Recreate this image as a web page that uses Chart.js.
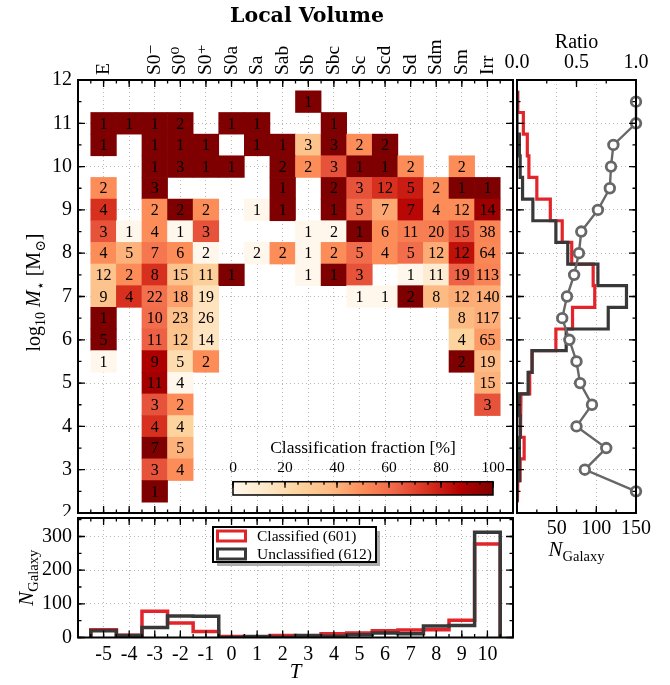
<!DOCTYPE html>
<html>
<head>
<meta charset="utf-8">
<script src="https://cdn.jsdelivr.net/npm/chart.js@4.4.1/dist/chart.umd.min.js"></script>
<style>
  html, body { margin: 0; padding: 0; background: #fff; overflow: hidden; }
  #wrap { position: relative; width: 670px; height: 685px; }
  canvas { position: absolute; }
</style>
</head>
<body>
<div id="wrap">
  <canvas id="heat" width="614" height="516" style="left:0px;top:0px"></canvas>
  <canvas id="cbar" width="310" height="70" style="left:200px;top:430px"></canvas>
  <canvas id="side" width="170" height="545" style="left:500px;top:20px"></canvas>
  <canvas id="hist" width="516" height="180" style="left:0px;top:505px"></canvas>
</div>
<script>
// ---- morphological types (T) ----
const typeBins   = [-5, -4, -3, -2, -1, 0, 1, 2, 3, 4, 5, 6, 7, 8, 9, 10];
const typeCodes  = [-5, -3, -2, -1, 0, 1, 2, 3, 4, 5, 6, 7, 8, 9, 10];
const typeLabels = ['E', 'S0\u207B', 'S0\u2070', 'S0\u207A', 'S0a', 'Sa', 'Sab', 'Sb', 'Sbc', 'Sc', 'Scd', 'Sd', 'Sdm', 'Sm', 'Irr'];

// ---- stellar-mass bins (log10 M*, centres, top to bottom) ----
const massBins = [11.5, 11, 10.5, 10, 9.5, 9, 8.5, 8, 7.5, 7, 6.5, 6, 5.5, 5, 4.5, 4, 3.5, 3, 2.5];

// ---- grid cells: one row per mass bin ----
const cellType = [
  [3],
  [-5, -4, -3, -2, 0, 1, 4],
  [-5, -3, -2, -1, 1, 2, 3, 4, 5, 6],
  [-3, -2, -1, 0, 2, 3, 4, 5, 6, 7, 9],
  [-5, -3, 2, 4, 5, 6, 7, 8, 9, 10],
  [-5, -3, -2, -1, 1, 2, 4, 5, 6, 7, 8, 9, 10],
  [-5, -4, -3, -2, -1, 3, 4, 5, 6, 7, 8, 9, 10],
  [-5, -4, -3, -2, -1, 1, 2, 3, 4, 5, 6, 7, 8, 9, 10],
  [-5, -4, -3, -2, -1, 0, 3, 4, 5, 7, 8, 9, 10],
  [-5, -4, -3, -2, -1, 5, 6, 7, 8, 9, 10],
  [-5, -3, -2, -1, 9, 10],
  [-5, -3, -2, -1, 9, 10],
  [-5, -3, -2, -1, 9, 10],
  [-3, -2, 10],
  [-3, -2, 10],
  [-3, -2],
  [-3, -2],
  [-3, -2],
  [-3]
];
const cellTotal = [
  [1],
  [1, 1, 1, 2, 1, 1, 1],
  [1, 1, 1, 1, 1, 1, 3, 3, 2, 2],
  [1, 3, 1, 1, 2, 2, 3, 1, 1, 2, 2],
  [2, 3, 1, 2, 3, 12, 5, 2, 1, 1],
  [4, 2, 2, 2, 1, 1, 1, 5, 7, 7, 4, 12, 14],
  [3, 1, 4, 1, 3, 1, 2, 1, 6, 11, 20, 15, 38],
  [4, 5, 7, 6, 2, 2, 2, 1, 2, 5, 4, 5, 12, 12, 64],
  [12, 2, 8, 15, 11, 1, 1, 1, 3, 1, 11, 19, 113],
  [9, 4, 22, 18, 19, 1, 1, 2, 8, 12, 140],
  [1, 10, 23, 26, 8, 117],
  [5, 11, 12, 14, 4, 65],
  [1, 9, 5, 2, 2, 19],
  [11, 4, 15],
  [3, 2, 3],
  [4, 4],
  [7, 5],
  [3, 4],
  [1]
];
const cellClassified = [
  [1],
  [1, 1, 1, 2, 1, 1, 1],
  [1, 1, 1, 1, 1, 1, 1, 3, 1, 2],
  [1, 3, 1, 1, 2, 1, 2, 1, 1, 1, 1],
  [1, 3, 1, 2, 2, 9, 4, 1, 1, 1],
  [3, 1, 2, 1, 0, 1, 1, 3, 3, 6, 2, 6, 13],
  [2, 0, 2, 0, 2, 0, 0, 1, 3, 6, 11, 10, 20],
  [2, 2, 4, 3, 0, 0, 1, 0, 1, 3, 2, 3, 5, 10, 33],
  [4, 1, 6, 5, 3, 1, 0, 1, 2, 0, 1, 12, 60],
  [3, 3, 13, 8, 3, 0, 0, 2, 3, 5, 58],
  [1, 6, 8, 4, 3, 48],
  [5, 7, 4, 2, 1, 30],
  [0, 8, 1, 1, 2, 7],
  [10, 0, 6],
  [2, 1, 2],
  [3, 1],
  [7, 2],
  [2, 2],
  [1]
];

// ---- counts per mass bin (side panel) ----
const classifiedByMass   = [1, 8, 13, 15, 25, 42, 57, 69, 96, 98, 70, 49, 19, 16, 5, 4, 9, 4, 1];
const unclassifiedByMass = [0, 0, 3, 4, 7, 20, 49, 64, 102, 138, 115, 62, 19, 14, 3, 4, 3, 3, 0];
const classifiedRatio    = [1.00, 1.00, 0.81, 0.79, 0.78, 0.68, 0.54, 0.52, 0.48, 0.42, 0.38, 0.44, 0.50, 0.53, 0.63, 0.50, 0.75, 0.57, 1.00];

// ---- counts per type (bottom panel) ----
const classifiedByType   = [23, 7, 78, 43, 18, 3, 2, 6, 3, 11, 13, 20, 22, 23, 51, 278];
const unclassifiedByType = [20, 6, 30, 64, 63, 0, 3, 1, 6, 4, 8, 13, 11, 34, 36, 313];

// ---- styling ----
const SERIF = "'Liberation Serif', 'DejaVu Serif', serif";
Chart.defaults.font.family = SERIF;
Chart.defaults.color = '#000';
const RED = '#e2242b';
const DARK = '#383838';
const GRID = '#b9b9b9';
const DOTS = [1, 3];
const orRd = ['#fff7ec', '#fee8c8', '#fdd49e', '#fdbb84', '#fc8d59', '#ef6548', '#d7301f', '#b30000', '#7f0000'];

function hexRgb(h) { return [1, 3, 5].map(i => parseInt(h.substr(i, 2), 16)); }
function fractionColor(f) {
  const p = Math.max(0, Math.min(1, f)) * (orRd.length - 1);
  const i = Math.min(Math.floor(p), orRd.length - 2);
  const t = p - i;
  const a = hexRgb(orRd[i]), b = hexRgb(orRd[i + 1]);
  return 'rgb(' + a.map((v, k) => Math.round(v + (b[k] - v) * t)).join(',') + ')';
}
const sum = arr => arr.reduce((s, v) => s + v, 0);

// fixed axis box sizes, no extra label overflow padding
const fixSize = (w, h) => s => {
  if (w != null) s.width = w;
  if (h != null) s.height = h;
  s.paddingTop = s.paddingBottom = s.paddingLeft = s.paddingRight = 0;
};

// frame around the plot area with inward tick marks
function frame(marks, frameWidth) {
  return {
    id: 'frame',
    afterDraw(chart) {
      const { ctx, chartArea: a } = chart;
      ctx.save();
      ctx.strokeStyle = '#000';
      marks.forEach(m => {
        const s = chart.scales[m.scale];
        ctx.lineWidth = m.width || 1.3;
        const first = Math.ceil(s.min / m.step - 1e-6), last = Math.floor(s.max / m.step + 1e-6);
        ctx.beginPath();
        for (let k = first; k <= last; k++) {
          const p = s.getPixelForValue(k * m.step);
          m.sides.forEach(side => {
            if (side === 'bottom') { ctx.moveTo(p, a.bottom); ctx.lineTo(p, a.bottom - m.len); }
            if (side === 'top')    { ctx.moveTo(p, a.top);    ctx.lineTo(p, a.top + m.len); }
            if (side === 'left')   { ctx.moveTo(a.left, p);   ctx.lineTo(a.left + m.len, p); }
            if (side === 'right')  { ctx.moveTo(a.right, p);  ctx.lineTo(a.right - m.len, p); }
          });
        }
        ctx.stroke();
      });
      ctx.lineWidth = frameWidth || 2;
      ctx.strokeRect(a.left, a.top, a.right - a.left, a.bottom - a.top);
      ctx.restore();
    }
  };
}

// titles with sub-/superscripts and mixed styles
function richText(items) {
  return {
    id: 'richText',
    afterDraw(chart) {
      const ctx = chart.ctx;
      items.forEach(item => {
        const { x, y, angle } = item.at(chart.chartArea);
        ctx.save();
        ctx.translate(x, y);
        ctx.rotate(angle || 0);
        ctx.fillStyle = '#000';
        ctx.textBaseline = 'alphabetic';
        ctx.textAlign = 'left';
        const widths = item.runs.map(r => { ctx.font = r.font; return ctx.measureText(r.text).width; });
        let cx = -sum(widths) / 2;
        item.runs.forEach((r, i) => { ctx.font = r.font; ctx.fillText(r.text, cx, r.dy || 0); cx += widths[i]; });
        ctx.restore();
      });
    }
  };
}
const run = (text, size, style, dy, family) => ({ text, font: (style ? style + ' ' : '') + size + 'px ' + (family || SERIF), dy: dy || 0 });
const titleRuns = [run('Local Volume', 20.5, 'bold', 0, "'DejaVu Serif', serif")];
const nGalaxyRuns = [run('N', 21, 'italic'), run('Galaxy', 14.5, '', 4.5)];
const logMassRuns = [run('log', 20), run('10', 14, '', 5), run(' ', 20), run('M', 20, 'italic'), run('\u22C6', 14, '', 5),
                     run(' [M', 20), run('\u2299', 14, '', 5), run(']', 20)];

// ---------------- main grid: type vs stellar mass ----------------
const heatData = [];
massBins.forEach((m, r) => cellType[r].forEach((t, j) => {
  heatData.push({ x: t, y: [m - 0.25, m + 0.25], n: cellTotal[r][j], k: cellClassified[r][j] });
}));

const cellLabels = {
  id: 'cellLabels',
  afterDatasetsDraw(chart) {
    const ctx = chart.ctx;
    const meta = chart.getDatasetMeta(0);
    const data = chart.data.datasets[0].data;
    ctx.save();
    ctx.fillStyle = '#000';
    ctx.font = '16px ' + SERIF;
    ctx.textAlign = 'center';
    ctx.textBaseline = 'middle';
    meta.data.forEach((el, i) => {
      const c = el.getCenterPoint();
      ctx.fillText(String(data[i].n), c.x, c.y + 1);
    });
    ctx.restore();
  }
};

const TOP_FONT = 19.5;
new Chart(document.getElementById('heat'), {
  type: 'bar',
  data: {
    datasets: [{
      data: heatData,
      backgroundColor: c => c.raw ? fractionColor(c.raw.k / c.raw.n) : '#fff',
      borderWidth: 0,
      barPercentage: 1,
      categoryPercentage: 1
    }]
  },
  options: {
    responsive: false,
    animation: false,
    events: [],
    layout: { padding: { left: 0, right: 101, top: 0, bottom: 3 } },
    plugins: { legend: { display: false }, tooltip: { enabled: false } },
    scales: {
      x: {
        type: 'linear', position: 'bottom', min: -6, max: 11, offset: false,
        ticks: { display: false, stepSize: 1 },
        grid: { color: GRID, drawTicks: false, offset: false },
        border: { display: false, dash: DOTS },
        afterFit: fixSize(null, 0)
      },
      xTop: {
        type: 'linear', position: 'top', min: -6, max: 11, offset: false,
        grid: { display: false, drawTicks: false },
        border: { display: false },
        afterBuildTicks: s => { s.ticks = typeCodes.map(v => ({ value: v })); },
        ticks: {
          autoSkip: false, minRotation: 90, maxRotation: 90, padding: 5,
          labelOffset: TOP_FONT * 1.2,
          font: { size: TOP_FONT },
          callback: v => typeLabels[typeCodes.indexOf(v)]
        },
        afterFit: fixSize(null, 80)
      },
      y: {
        type: 'linear', min: 2, max: 12, beginAtZero: false,
        ticks: { stepSize: 1, padding: 6, font: { size: 20 } },
        grid: { color: GRID, drawTicks: false },
        border: { display: false, dash: DOTS },
        afterFit: fixSize(78, null)
      }
    }
  },
  plugins: [
    cellLabels,
    frame([
      { scale: 'x', step: 1, len: 7, sides: ['top', 'bottom'] },
      { scale: 'x', step: 0.5, len: 3.5, sides: ['top', 'bottom'] },
      { scale: 'y', step: 1, len: 7, sides: ['left', 'right'] },
      { scale: 'y', step: 0.5, len: 3.5, sides: ['left', 'right'] }
    ], 2),
    richText([
      { runs: titleRuns, at: a => ({ x: 307, y: 22 }) },
      { runs: logMassRuns, at: a => ({ x: 40, y: (a.top + a.bottom) / 2 - 4, angle: -Math.PI / 2 }) }
    ])
  ]
});

// ---------------- colour bar ----------------
new Chart(document.getElementById('cbar'), {
  type: 'bar',
  data: {
    labels: [''],
    datasets: [{
      data: [100],
      backgroundColor: c => {
        const chart = c.chart, xs = chart.scales.x;
        if (!chart.chartArea || !xs) return orRd[4];
        const g = chart.ctx.createLinearGradient(xs.getPixelForValue(0), 0, xs.getPixelForValue(100), 0);
        orRd.forEach((col, i) => g.addColorStop(i / (orRd.length - 1), col));
        return g;
      },
      borderWidth: 0,
      barPercentage: 1,
      categoryPercentage: 1
    }]
  },
  options: {
    indexAxis: 'y',
    responsive: false,
    animation: false,
    events: [],
    layout: { padding: { left: 33, right: 17, top: 0, bottom: 5 } },
    plugins: { legend: { display: false }, tooltip: { enabled: false } },
    scales: {
      x: {
        type: 'linear', position: 'top', min: 0, max: 100,
        ticks: { stepSize: 20, padding: 4, font: { size: 15.5 } },
        grid: { display: false, drawTicks: false },
        border: { display: false },
        title: { display: true, text: 'Classification fraction [%]', font: { size: 17.5 }, padding: { top: 8, bottom: 0 } },
        afterFit: fixSize(null, 51.7)
      },
      y: { display: false }
    }
  },
  plugins: [frame([
    { scale: 'x', step: 20, len: 6, sides: ['top'] },
    { scale: 'x', step: 5, len: 3, sides: ['top'] }
  ], 1.5)]
});

// ---------------- side panel: counts and ratio per mass bin ----------------
function massSteps(counts) {
  const pts = [{ x: 0, y: massBins[0] + 0.25 }];
  massBins.forEach((m, i) => { pts.push({ x: counts[i], y: m + 0.25 }, { x: counts[i], y: m - 0.25 }); });
  pts.push({ x: 0, y: massBins[massBins.length - 1] - 0.25 });
  return pts;
}

new Chart(document.getElementById('side'), {
  type: 'line',
  data: {
    datasets: [
      { label: 'Classified', data: massSteps(classifiedByMass), xAxisID: 'x', yAxisID: 'y',
        borderColor: RED, borderWidth: 3.2, pointRadius: 0, tension: 0, fill: false, order: 2, borderJoinStyle: 'miter' },
      { label: 'Unclassified', data: massSteps(unclassifiedByMass), xAxisID: 'x', yAxisID: 'y',
        borderColor: DARK, borderWidth: 3.2, pointRadius: 0, tension: 0, fill: false, order: 1, borderJoinStyle: 'miter' },
      { label: 'Ratio', data: massBins.map((m, i) => ({ x: classifiedRatio[i], y: m })), xAxisID: 'xRatio', yAxisID: 'y',
        borderColor: '#676767', borderWidth: 2.4, tension: 0, fill: false, order: 0, clip: 10,
        pointRadius: 4.8, pointBorderWidth: 2.8, pointBackgroundColor: '#fff', pointBorderColor: '#676767' }
    ]
  },
  options: {
    responsive: false,
    animation: false,
    events: [],
    layout: { padding: { left: 17, right: 34, top: 0, bottom: 0 } },
    plugins: { legend: { display: false }, tooltip: { enabled: false } },
    scales: {
      x: {
        type: 'linear', position: 'bottom', min: 0, max: 150,
        ticks: { stepSize: 50, padding: 4, font: { size: 20 }, callback: v => (v === 0 ? '' : v) },
        grid: { color: GRID, drawTicks: false },
        border: { display: false, dash: DOTS },
        afterFit: fixSize(null, 52)
      },
      xRatio: {
        type: 'linear', position: 'top', min: 0, max: 1,
        ticks: { stepSize: 0.5, padding: 5, font: { size: 20 }, callback: v => v.toFixed(1) },
        grid: { display: false, drawTicks: false },
        border: { display: false },
        title: { display: true, text: 'Ratio', font: { size: 20 }, padding: { top: 11, bottom: 0 } },
        afterFit: fixSize(null, 60)
      },
      y: {
        type: 'linear', min: 2, max: 12,
        ticks: { display: false, stepSize: 1 },
        grid: { color: GRID, drawTicks: false },
        border: { display: false, dash: DOTS },
        afterFit: fixSize(0, null)
      }
    }
  },
  plugins: [
    frame([
      { scale: 'x', step: 50, len: 7, sides: ['bottom'] },
      { scale: 'x', step: 25, len: 3.5, sides: ['bottom'] },
      { scale: 'xRatio', step: 0.5, len: 7, sides: ['top'] },
      { scale: 'xRatio', step: 0.25, len: 3.5, sides: ['top'] },
      { scale: 'y', step: 1, len: 7, sides: ['left', 'right'] },
      { scale: 'y', step: 0.5, len: 3.5, sides: ['left', 'right'] }
    ], 2),
    richText([{ runs: nGalaxyRuns, at: a => ({ x: (a.left + a.right) / 2, y: a.bottom + 43 }) }])
  ]
});

// ---------------- bottom panel: counts per type ----------------
function typeSteps(counts) {
  const last = typeBins.length - 1;
  const pts = [{ x: typeBins[0] - 0.5, y: 0 }];
  typeBins.forEach((t, i) => { pts.push({ x: t - 0.5, y: counts[i] }, { x: t + 0.5, y: counts[i] }); });
  pts.push({ x: typeBins[last] + 0.5, y: 0 });
  return pts;
}

const legendBox = {
  id: 'legendBox',
  afterDraw(chart) {
    const { ctx, chartArea: a } = chart;
    const w = 163, h = 35;
    const left = Math.round((a.left + a.right) / 2 - w / 2 - 1), top = Math.round(a.top + 9);
    ctx.save();
    ctx.fillStyle = 'rgba(0,0,0,0.33)';
    ctx.fillRect(left + 4, top + 4, w, h);
    ctx.fillStyle = '#fff';
    ctx.fillRect(left, top, w, h);
    ctx.lineWidth = 2;
    ctx.strokeStyle = '#000';
    ctx.strokeRect(left, top, w, h);
    chart.data.datasets.forEach((ds, i) => {
      const y = top + 8.5 + i * 18;
      ctx.lineWidth = 3;
      ctx.strokeStyle = ds.borderColor;
      ctx.strokeRect(left + 4.5, y - 4.5, 28, 10);
      ctx.fillStyle = '#000';
      ctx.font = '15.5px ' + SERIF;
      ctx.textAlign = 'left';
      ctx.textBaseline = 'middle';
      ctx.fillText(ds.label + ' (' + sum(ds.counts) + ')', left + 44, y + 1);
    });
    ctx.restore();
  }
};

new Chart(document.getElementById('hist'), {
  type: 'line',
  data: {
    datasets: [
      { label: 'Classified', counts: classifiedByType, data: typeSteps(classifiedByType),
        borderColor: RED, borderWidth: 3.5, pointRadius: 0, tension: 0, fill: false, order: 2, borderJoinStyle: 'miter' },
      { label: 'Unclassified', counts: unclassifiedByType, data: typeSteps(unclassifiedByType),
        borderColor: DARK, borderWidth: 3.5, pointRadius: 0, tension: 0, fill: false, order: 1, borderJoinStyle: 'miter' }
    ]
  },
  options: {
    responsive: false,
    animation: false,
    events: [],
    layout: { padding: { left: 0, right: 3, top: 13, bottom: 0 } },
    plugins: { legend: { display: false }, tooltip: { enabled: false } },
    scales: {
      x: {
        type: 'linear', min: -6, max: 11,
        ticks: { stepSize: 1, padding: 5.5, font: { size: 20 }, autoSkip: false, minRotation: 0, maxRotation: 0,
                 callback: v => (v < typeBins[0] || v > typeBins[typeBins.length - 1]) ? '' : v },
        grid: { color: GRID, drawTicks: false },
        border: { display: false, dash: DOTS },
        title: { display: true, text: 'T', font: { size: 21, style: 'italic' }, padding: { top: 0, bottom: 0 } },
        afterFit: fixSize(null, 47.5)
      },
      y: {
        type: 'linear', min: 0, max: 355,
        ticks: { stepSize: 100, includeBounds: false, padding: 6, font: { size: 20 } },
        grid: { color: GRID, drawTicks: false },
        border: { display: false, dash: DOTS },
        afterFit: fixSize(78, null)
      }
    }
  },
  plugins: [
    frame([
      { scale: 'x', step: 1, len: 7, sides: ['top', 'bottom'] },
      { scale: 'x', step: 0.5, len: 3.5, sides: ['top', 'bottom'] },
      { scale: 'y', step: 100, len: 7, sides: ['left', 'right'] },
      { scale: 'y', step: 50, len: 3.5, sides: ['left', 'right'] }
    ], 2),
    legendBox,
    richText([{ runs: nGalaxyRuns, at: a => ({ x: 33, y: (a.top + a.bottom) / 2, angle: -Math.PI / 2 }) }])
  ]
});
</script>
</body>
</html>
